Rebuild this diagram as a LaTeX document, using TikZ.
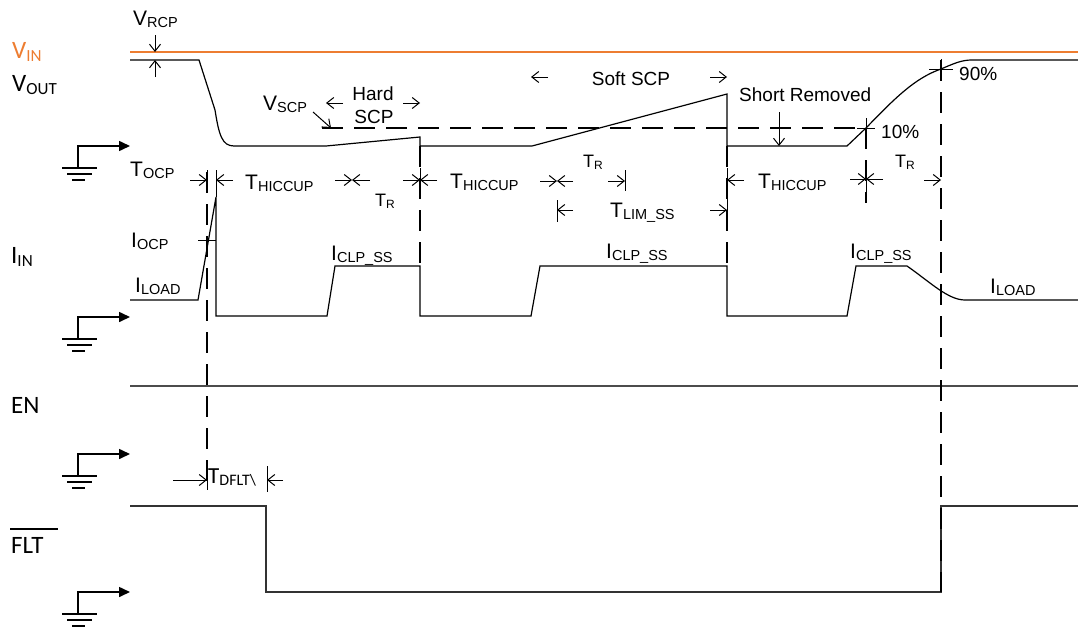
\documentclass[tikz,border=0pt]{standalone}
\usepackage{fontspec}
\setmainfont{Liberation Sans}
\newfontfamily\calfont{Carlito}
\usetikzlibrary{arrows.meta}
\definecolor{vin}{HTML}{ED7D31}
\newcommand\lbl[2]{{\fontsize{21}{24}\selectfont #1}\raisebox{-2.5pt}{\fontsize{14.5}{16}\selectfont #2}}
\newcommand\lblr[2]{{\fontsize{18}{20}\selectfont #1}\raisebox{-2.5pt}{\fontsize{12}{14}\selectfont #2}}
\newcommand\leftlbl[2]{{\calfont\fontsize{25}{28}\selectfont #1\raisebox{-3pt}{\fontsize{17}{18}\selectfont #2}}}
\newcommand\plaintxt{\fontsize{19}{22}\selectfont}
\tikzset{
  wave/.style={line width=1.2pt, black},
  dashln/.style={line width=1.25pt, dash pattern=on 21pt off 11pt},
  arr/.style={line width=1pt, -{Straight Barb[length=7pt,width=11pt]}},
  tickln/.style={line width=1pt},
  gndln/.style={line width=1.6pt},
  txt/.style={inner sep=0pt, anchor=base west},
  ctxt/.style={inner sep=0pt, anchor=base},
  ground/.pic={
    \draw[gndln,-{Triangle[length=11pt,width=10pt]}] (0,22) -- (0,0) -- (52,0);
    \draw[gndln] (-16,22) -- (19,22) (-11,28) -- (14,28) (-6,34) -- (7,34);
  }
}
\begin{document}
\begin{tikzpicture}[x=1pt,y=-1pt]
\useasboundingbox (0,0) rectangle (1078,629);
% grounds
\pic at (78,146) {ground};
\pic at (78,317) {ground};
\pic at (78,454) {ground};
\pic at (78,592) {ground};
% left labels
\node[txt,text=vin] (lvin) at (12,58) {\leftlbl{V}{IN}};
\node[txt] (lvout) at (12,91) {\leftlbl{V}{OUT}};
\node[txt] (liin) at (11,263) {\leftlbl{I}{IN}};
\node[txt] (len) at (11,413) {\leftlbl{EN}{}};
\node[txt] (lflt) at (11,553) {\leftlbl{FLT}{}};
\draw[line width=1.5pt] (10,529) -- (58,529);
% VIN
\draw[line width=1.5pt, vin] (130,52) -- (1078,52);
% VOUT
\draw[wave] (130,60) -- (199,60) -- (215,110) .. controls (219,135) and (222,146) .. (234,146) -- (326,146) -- (420,137) -- (420,146) -- (532,146) -- (727,94) -- (727,146) -- (847,146) -- (866,128) .. controls (895,98) and (915,78) .. (941,69) .. controls (955,63) and (962,60) .. (972,60) -- (1078,60);
% IIN
\draw[wave] (130,300) -- (198,300) -- (216,197) -- (216,316) -- (327,316) -- (335,266) -- (420,266) -- (420,316) -- (531,316) -- (540,266) -- (727,266) -- (727,316) -- (847,316) -- (856,266) -- (907,266) .. controls (930,282) and (948,300) .. (965,300) -- (1078,300);
% EN
\draw[line width=2pt, black!70] (130,386) -- (1078,386);
% FLT
\draw[line width=1.6pt, black!80] (130,506) -- (266,506) -- (266,592) -- (941,592) -- (941,506) -- (1078,506);
% dashed
\draw[dashln] (322,128) -- (866,128);
\draw[dashln] (207,172) -- (207,488);
\draw[dashln] (420,146) -- (420,266);
\draw[dashln] (727,146) -- (727,266);
\draw[dashln] (866,128) -- (866,203);
\draw[dashln] (941,60) -- (941,592);
% VRCP
\node[txt] (vrcp) at (133,25) {\lbl{V}{RCP}};
\draw[arr] (155,35) -- (155,52);
\draw[arr] (155,77) -- (155,60);
% VSCP
\node[txt] (vscp) at (263,110) {\lbl{V}{SCP}};
\draw[arr] (313,112) -- (331,128);
% Hard SCP
\node[ctxt] (hard) at (373,100) {\plaintxt Hard};
\node[ctxt] (hscp) at (374,123) {\plaintxt SCP};
\draw[arr] (343,103) -- (326,103);
\draw[arr] (403,103) -- (420,103);
% Soft SCP
\node[ctxt] (soft) at (631,85) {\plaintxt Soft SCP};
\draw[arr] (548,77) -- (531,77);
\draw[arr] (710,77) -- (727,77);
% Short removed
\node[txt] (short) at (739,101) {\plaintxt Short Removed};
\draw[arr] (779,112) -- (779,146);
% percentages
\node[txt] (p90) at (959,80) {\plaintxt 90\%};
\node[txt] (p10) at (881,138) {\plaintxt 10\%};
\draw[tickln] (929,69) -- (953,69) (941,59) -- (941,80);
\draw[tickln] (857,128) -- (875,128) (866,118) -- (866,137);
% timing row
\node[txt] (tocp) at (130,176) {\lbl{T}{OCP}};
\draw[arr] (190,180) -- (207,180);
\draw[arr] (233,180) -- (216,180);
\draw[tickln] (216,170) -- (216,197);
\draw[tickln] (207,170) -- (207,193);
\node[txt] (th1) at (245,189) {\lbl{T}{HICCUP}};
\draw[arr] (335,180) -- (352,180);
\draw[arr] (370,180) -- (352,180);
\node[txt] (tr1) at (375,206) {\lblr{T}{R}};
\draw[arr] (403,180) -- (420,180);
\draw[arr] (437,180) -- (420,180);
\draw[tickln] (420,168) -- (420,198);
\node[txt] (th2) at (450,188) {\lbl{T}{HICCUP}};
\draw[arr] (540,181) -- (557,181);
\draw[arr] (573,181) -- (557,181);
\node[txt] (tr2) at (583,167) {\lblr{T}{R}};
\draw[arr] (608,181) -- (625,181);
\draw[tickln] (625,170) -- (625,191);
\draw[arr] (744,180) -- (727,180);
\draw[tickln] (727,168) -- (727,192);
\node[txt] (th3) at (758,188) {\lbl{T}{HICCUP}};
\draw[arr] (850,179) -- (866,179);
\draw[arr] (883,179) -- (866,179);
\draw[tickln] (866,170) -- (866,203);
\node[txt] (tr3) at (895,167) {\lblr{T}{R}};
\draw[arr] (924,180) -- (941,180);
% TLIM
\draw[arr] (573,210) -- (557,210);
\draw[tickln] (557,200) -- (557,222);
\node[txt] (tlim) at (610,217) {\lbl{T}{LIM\_SS}};
\draw[arr] (710,210) -- (727,210);
\draw[tickln] (727,198) -- (727,220);
% current labels
\node[txt] (iocp) at (131,247) {\lbl{I}{OCP}};
\draw[tickln] (198,240) -- (216,240);
\node[txt] (iload1) at (135,292) {\lbl{I}{LOAD}};
\node[txt] (iclp1) at (331,260) {\lbl{I}{CLP\_SS}};
\node[txt] (iclp2) at (606,258) {\lbl{I}{CLP\_SS}};
\node[txt] (iclp3) at (850,258) {\lbl{I}{CLP\_SS}};
\node[txt] (iload2) at (990,293) {\lbl{I}{LOAD}};
% TDFLT
\draw[arr] (173,480) -- (207,480);
\draw[tickln] (207,467) -- (207,490);
\node[txt] (tdflt) at (208,483) {\calfont\fontsize{23}{26}\selectfont T\raisebox{-2pt}{\fontsize{16}{18}\selectfont DFLT\textbackslash}};
\draw[arr] (283,480) -- (267,480);
\draw[tickln] (267,466) -- (267,492);
\end{tikzpicture}
\end{document}
